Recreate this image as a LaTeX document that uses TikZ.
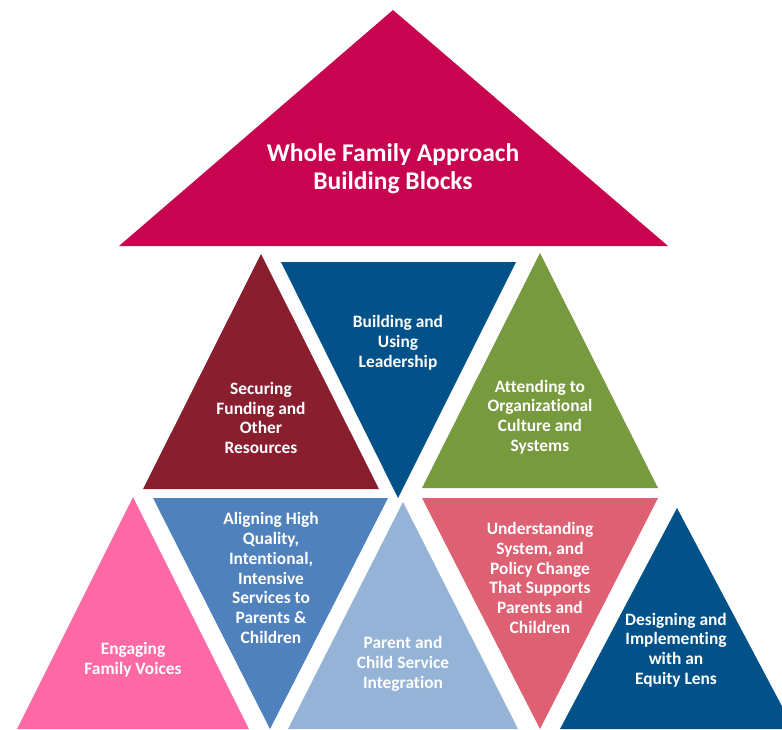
\documentclass[tikz,border=0pt]{standalone}
\usepackage{fontspec}
\setmainfont[Ligatures=NoCommon]{Carlito}
\usetikzlibrary{positioning}

\definecolor{wfMagenta}{RGB}{200,4,80}
\definecolor{wfMaroon}{RGB}{136,30,46}
\definecolor{wfNavy}{RGB}{2,81,137}
\definecolor{wfGreen}{RGB}{118,154,61}
\definecolor{wfPink}{RGB}{255,105,165}
\definecolor{wfSteel}{RGB}{79,129,189}
\definecolor{wfSky}{RGB}{149,179,215}
\definecolor{wfRose}{RGB}{221,96,115}

\begin{document}
\begin{tikzpicture}[x=1pt,y=-1pt,
  blocktext/.style={text=white,font=\bfseries\fontsize{17.4}{19.8}\selectfont,align=center},
  titletext/.style={text=white,font=\bfseries\fontsize{25.5}{28}\selectfont,align=center}]
  \useasboundingbox (0,0) rectangle (782,729);
  \clip (0,0) rectangle (782,729);
% top block
  \fill[wfMagenta] (393,10) -- (668,246) -- (119,246) -- cycle;
  \node[titletext] (title) at (393,169) {Whole Family Approach\\Building Blocks};
% middle row
  \fill[wfMaroon] (261,254) -- (379,489) -- (143,489) -- cycle;
  \fill[wfNavy] (281,262) -- (516,262) -- (398,498) -- cycle;
  \fill[wfGreen] (540,253) -- (658,488) -- (422,488) -- cycle;
  \node[blocktext] (funding) at (261,418) {Securing\\Funding and\\Other\\Resources};
  \node[blocktext] (leadership) at (398,343) {Building and\\Using\\Leadership};
  \node[blocktext] (culture) at (540,417) {Attending to\\Organizational\\Culture and\\Systems};
% bottom row
  \fill[wfPink] (133,497) -- (249,729) -- (17,729) -- cycle;
  \fill[wfSteel] (153,498) -- (388,498) -- (270,729) -- cycle;
  \fill[wfSky] (403,502) -- (518,729) -- (288,729) -- cycle;
  \fill[wfRose] (422,498) -- (658,498) -- (540,729) -- cycle;
  \fill[wfNavy] (677,508) -- (794,729) -- (560,729) -- cycle;
  \node[blocktext] (voices) at (133,660) {Engaging\\Family Voices};
  \node[blocktext] (services) at (271,578) {Aligning High\\Quality,\\Intentional,\\Intensive\\Services to\\Parents \&\\Children};
  \node[blocktext] (integration) at (403,664) {Parent and\\Child Service\\Integration};
  \node[blocktext] (policy) at (540,578) {Understanding\\System, and\\Policy Change\\That Supports\\Parents and\\Children};
  \node[blocktext] (equity) at (676,650) {Designing and\\Implementing\\with an\\Equity Lens};
\end{tikzpicture}
\end{document}
